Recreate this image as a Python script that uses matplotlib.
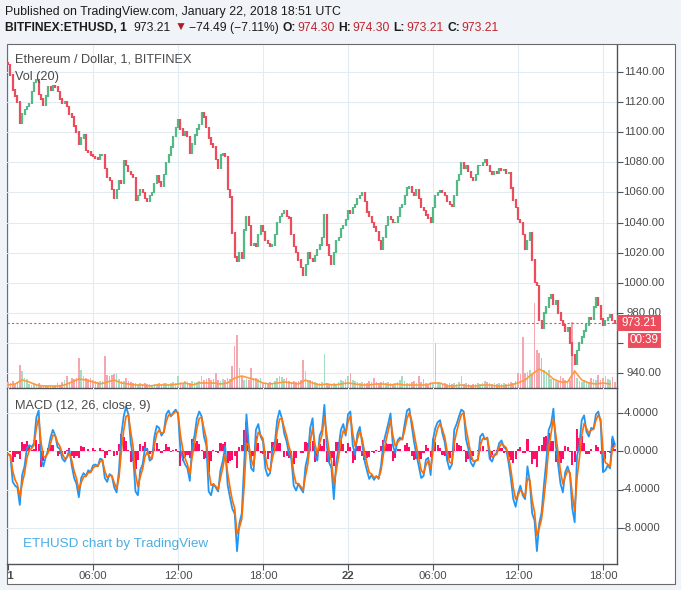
import numpy as np
import pandas as pd
import matplotlib
matplotlib.use('Agg')
import matplotlib.pyplot as plt
from matplotlib.patches import Rectangle
from matplotlib.transforms import Bbox, blended_transform_factory

# ETHUSD (Bitfinex) 21-22 ene 2018, velas agrupadas cada 10 minutos desde el 21 00:00
cierres = [
    1145, 1138, 1128, 1124, 1120, 1106, 1112, 1115, 1117, 1119,
    1127, 1133, 1135, 1125, 1122, 1118, 1124, 1130, 1128, 1131,
    1130, 1127, 1122, 1119, 1120, 1117, 1112, 1110, 1104, 1100,
    1092, 1096, 1098, 1088, 1087, 1085, 1084, 1083, 1082, 1085,
    1085, 1076, 1070, 1068, 1062, 1056, 1062, 1068, 1066, 1081,
    1078, 1074, 1072, 1070, 1055, 1058, 1062, 1060, 1056, 1054,
    1058, 1060, 1066, 1071, 1067, 1064, 1072, 1080, 1085, 1090,
    1097, 1103, 1108, 1102, 1098, 1100, 1097, 1086, 1092, 1098,
    1102, 1105, 1113, 1110, 1103, 1096, 1092, 1090, 1082, 1076,
    1085, 1086, 1084, 1062, 1057, 1033, 1017, 1014, 1020, 1016,
    1035, 1044, 1038, 1025, 1026, 1024, 1032, 1038, 1034, 1028,
    1026, 1024, 1025, 1032, 1040, 1044, 1046, 1048, 1044, 1043,
    1032, 1024, 1020, 1015, 1010, 1005, 1012, 1020, 1016, 1014,
    1018, 1022, 1025, 1030, 1045, 1025, 1018, 1012, 1020, 1028,
    1030, 1036, 1038, 1042, 1048, 1046, 1050, 1052, 1056, 1058,
    1060, 1054, 1047, 1044, 1040, 1037, 1034, 1028, 1022, 1030,
    1038, 1044, 1042, 1040, 1040, 1044, 1050, 1052, 1058, 1063,
    1064, 1060, 1058, 1062, 1056, 1050, 1048, 1045, 1043, 1040,
    1050, 1058, 1060, 1061, 1060, 1058, 1054, 1052, 1051, 1058,
    1068, 1072, 1080, 1076, 1078, 1074, 1070, 1068, 1072, 1078,
    1078, 1080, 1082, 1078, 1074, 1072, 1074, 1073, 1076, 1075,
    1075, 1073, 1073, 1063, 1055, 1050, 1042, 1040, 1032, 1022,
    1028, 1033, 1015, 1000, 998, 975, 970, 980, 984, 990,
    992, 986, 988, 980, 975, 972, 968, 970, 960, 952,
    946, 955, 960, 964, 968, 972, 977, 976, 984, 990,
    985, 976, 972, 975, 977, 979, 975, 973.21,
]
apertura_inicial = 1146

volumen = [
    6, 5, 7, 4, 6, 23, 17, 10, 9, 4,
    3, 5, 4, 5, 3, 2, 3, 2, 3, 2,
    3, 5, 3, 6, 8, 12, 5, 10, 9, 10,
    30, 18, 12, 10, 9, 10, 8, 7, 6, 7,
    7, 32, 13, 12, 13, 14, 15, 9, 7, 7,
    10, 7, 6, 5, 5, 4, 5, 4, 5, 4,
    4, 3, 4, 4, 5, 4, 5, 5, 4, 5,
    6, 5, 12, 6, 5, 7, 6, 5, 7, 6,
    6, 7, 12, 8, 9, 10, 8, 9, 15, 8,
    7, 9, 8, 10, 9, 22, 42, 53, 20, 12,
    8, 9, 8, 20, 10, 10, 9, 10, 5, 4,
    5, 6, 4, 7, 10, 12, 11, 9, 10, 7,
    6, 7, 6, 7, 8, 28, 17, 8, 8, 7,
    6, 5, 5, 6, 34, 5, 4, 3, 5, 4,
    6, 8, 7, 9, 12, 15, 8, 7, 6, 5,
    6, 5, 5, 7, 6, 10, 6, 5, 6, 7,
    5, 6, 5, 4, 5, 6, 8, 12, 7, 5,
    5, 6, 7, 5, 12, 6, 9, 5, 4, 6,
    5, 45, 6, 5, 4, 5, 4, 5, 4, 5,
    4, 6, 12, 4, 5, 4, 3, 4, 4, 5,
    4, 5, 7, 6, 5, 4, 5, 4, 5, 4,
    5, 4, 5, 6, 5, 7, 15, 14, 51, 15,
    16, 18, 14, 85, 38, 35, 30, 18, 16, 18,
    9, 8, 7, 6, 12, 10, 8, 7, 8, 66,
    18, 10, 7, 6, 8, 7, 6, 10, 9, 8,
    13, 8, 10, 12, 9, 8, 11, 6,
]

# media del volumen (20), leida cada 30 minutos
vol_media = [
    3, 4, 8, 6, 3, 2, 2, 2, 3, 6,
    9, 8, 6, 4, 6, 8, 5, 4, 3, 3,
    2, 3, 3, 3, 4, 5, 3, 5, 5, 5,
    4, 5, 10, 12, 10, 8, 5, 4, 5, 6,
    5, 4, 8, 5, 3, 4, 3, 4, 5, 4,
    3, 3, 4, 4, 3, 4, 3, 3, 3, 3,
    5, 5, 2, 2, 3, 2, 2, 3, 3, 2,
    2, 3, 5, 8, 14, 19, 15, 9, 6, 6,
    17, 8, 5, 4, 5, 4,
]

macd = [
    -0.3, -0.5, -3.2, -3.6, -3.8, -5.6, -2.5, -1.6, 0.3, 0.6,
    0.4, 0.8, 3.5, 4.2, -0.8, -1.6, -0.6, 0.1, 1.4, 2.2,
    1.6, 0.4, 0.2, -0.8, -1.1, -0.6, 0.1, -1.5, -2.8, -3.4,
    -4.8, -2.8, -2.3, -2.6, -2.0, -2.2, -1.5, -1.4, -1.6, -0.8,
    -0.9, -2.8, -3.2, -2.4, -2.6, -3.8, -4.3, -2.0, 1.7, 3.6,
    4.6, 3.8, 0.8, -0.6, -4.2, -4.6, -2.0, -1.4, 0.3, 0.2,
    -1.0, -0.8, 1.5, 2.6, 2.4, 1.6, 2.0, 3.8, 4.2, 3.6,
    4.0, 4.3, 3.9, 0.2, -0.8, -1.4, -1.8, -3.1, 0.6, 1.6,
    3.4, 4.1, 3.6, 1.5, 0.6, -4.2, -4.6, -3.4, -3.8, -4.2,
    -2.0, -1.0, 0.5, -3.5, -4.8, -6.0, -6.5, -10.4, -7.5, -6.5,
    -1.5, 3.8, 0.5, -1.8, -2.1, 2.2, 2.8, 1.5, 1.0, -1.8,
    -2.6, -2.3, 0.2, 0.8, 3.2, 4.2, 3.4, 1.8, 1.0, -0.3,
    -0.8, -3.6, -4.1, -3.4, -3.9, -4.3, -1.6, -0.5, 2.4, 3.4,
    -0.4, -1.0, 1.6, 2.2, 4.8, 0.6, -1.2, -1.8, -5.0, -1.2,
    0.3, 2.2, 2.8, 1.6, 3.8, 4.1, 0.6, -0.4, 1.8, 2.5,
    0.8, -1.0, -2.0, -2.9, -2.5, -3.0, -2.6, -2.9, -1.5, 0.8,
    1.8, 2.8, 3.9, 0.6, -0.2, 1.1, 1.4, 1.2, 2.8, 4.2,
    4.4, 2.6, 0.9, -0.4, -1.6, -2.8, -2.6, -0.9, -0.7, -2.5,
    1.2, 2.4, 3.0, 3.2, 1.8, 0.9, -1.0, -1.9, -1.4, 2.2,
    2.8, 3.6, 4.3, 4.1, 1.2, 0.2, -1.2, -1.6, -1.0, -0.9,
    1.5, 1.8, 1.2, 1.4, -0.8, -1.1, -0.4, -0.2, 0.8, 1.1,
    0.4, 0.2, -1.2, -2.9, -5.0, -5.8, -4.4, -3.6, -4.6, -5.0,
    -1.6, -3.2, -6.5, -7.2, -10.4, -7.5, -6.4, -3.5, -1.0, 2.2,
    2.8, 4.4, 0.6, -1.4, -3.4, -4.3, -2.2, -1.6, -2.4, -6.0,
    -7.4, -0.5, 0.6, 3.2, 3.7, 2.0, 1.5, 2.4, 2.3, 3.8,
    4.1, 3.0, -2.2, -2.0, -1.5, -1.8, 1.5, 0.7,
]

ultimo = 973.21
precio_ticks = [940, 960, 980, 1000, 1020, 1040, 1060, 1080, 1100, 1120, 1140]
macd_ticks = [-8, -4, 0, 4]
hora_ticks = [0, 360, 720, 1080, 1440, 1800, 2160, 2520]
hora_labels = ['21', '06:00', '12:00', '18:00', '22', '06:00', '12:00', '18:00']

# colores
verde = '#53b987'
rojo = '#eb4d5c'
verde_vol = '#a6dcc1'
rojo_vol = '#f4a7af'
rejilla = '#e3ebf2'
gris_txt = '#4a4a4a'
eje = '#505358'

W, H = 681, 590
plt.rcParams['font.family'] = ['Liberation Sans', 'DejaVu Sans']

def fx(x):
    return x / W

def fy(y):
    return 1 - y / H

def tx(xp):
    # pixel -> minutos
    return (xp - 8) * 360 / 85

t = np.arange(len(cierres)) * 10
t_media = np.arange(len(vol_media)) * 30
abre = [apertura_inicial] + cierres[:-1]
sube = [c >= o for o, c in zip(abre, cierres)]

fig = plt.figure(figsize=(W / 100, H / 100), dpi=100, facecolor='#f0f3f7')
fig.add_artist(Rectangle((fx(6.5), fy(583.5)), fx(675) - fx(6.5), fy(44) - fy(583.5),
                         facecolor='white', edgecolor='#6a6a6a', lw=0.8, zorder=-1))

ax_v = fig.add_axes([fx(7), fy(388), fx(617) - fx(7), fy(45) - fy(388)])
ax_p = ax_v.twinx()
ax_m = fig.add_axes([fx(7), fy(564), fx(617) - fx(7), fy(388) - fy(564)])

for a in (ax_v, ax_p, ax_m):
    a.set_xlim(tx(7), tx(617))
    a.patch.set_visible(False)
    for s in a.spines.values():
        s.set_visible(False)

ax_p.set_ylim(940 - 15 / 1.505, 1140 + 27 / 1.505)
ax_v.set_ylim(0, 343)
ax_m.set_ylim(-(564 - 451) / 9.625, (451 - 388) / 9.625)

# rejilla
for h in hora_ticks:
    ax_v.axvline(h, color=rejilla, lw=0.75, zorder=0)
    ax_m.axvline(h, color=rejilla, lw=0.75, zorder=0)
tr_grid = blended_transform_factory(ax_v.transAxes, ax_p.transData)
for p in precio_ticks:
    ax_v.plot([0, 1], [p, p], transform=tr_grid, color=rejilla, lw=0.75, zorder=0)
for m in macd_ticks:
    ax_m.axhline(m, color=rejilla, lw=0.75, zorder=0)

# volumen
ax_v.bar(t, volumen, width=7, color=[verde_vol if s else rojo_vol for s in sube], zorder=2)
ax_v.plot(t_media, vol_media, color='#ff9a3c', lw=1.2, zorder=3)

# velas
bajo = [min(o, c) - 0.5 for o, c in zip(abre, cierres)]
alto = [max(o, c) + 0.5 for o, c in zip(abre, cierres)]
ax_p.vlines(t, bajo, alto, colors=[verde if s else rojo for s in sube], lw=1.6, zorder=3)
ax_p.axhline(ultimo, color=rojo, lw=0.8, ls=(0, (2, 2)), zorder=4)

# MACD
serie = pd.Series(macd)
senal = serie.ewm(alpha=0.6, adjust=False).mean()
hist = serie - senal
ax_m.bar(t, hist, width=9, color='#ff0d66', zorder=2)
ax_m.plot(t, macd, color='#2196f3', lw=1.3, zorder=3)
ax_m.plot(t, senal, color='#ff6d00', lw=1.2, zorder=4)

# ejes
ax_p.spines['right'].set_visible(True)
ax_p.spines['bottom'].set_visible(True)
ax_m.spines['right'].set_visible(True)
ax_m.spines['bottom'].set_visible(True)
for s in (ax_p.spines['right'], ax_p.spines['bottom'], ax_m.spines['right'], ax_m.spines['bottom']):
    s.set_color(eje)
    s.set_linewidth(1.0)

ax_v.tick_params(left=False, labelleft=False, bottom=False, labelbottom=False)
ax_p.set_yticks(precio_ticks)
ax_p.tick_params(axis='y', right=True, labelright=False, length=4, color=eje)
ax_p.tick_params(axis='x', bottom=False, labelbottom=False)
ax_m.yaxis.tick_right()
ax_m.set_yticks(macd_ticks)
ax_m.tick_params(axis='y', right=True, left=False, labelright=False, labelleft=False, length=4, color=eje)
ax_m.set_xticks(hora_ticks)
ax_m.tick_params(axis='x', length=4, color=eje, labelbottom=False)

tr_p = blended_transform_factory(fig.transFigure, ax_p.transData)
for p in precio_ticks:
    ax_p.text(fx(644), p, f'{p:.2f}', transform=tr_p, ha='center', va='center',
              fontsize=8.2, color=gris_txt, clip_on=False)
tr_m = blended_transform_factory(fig.transFigure, ax_m.transData)
for m in macd_ticks:
    ax_m.text(fx(641), m, f'{m:.4f}', transform=tr_m, ha='center', va='center',
              fontsize=8.2, color=gris_txt, clip_on=False)
tr_x = blended_transform_factory(ax_m.transData, fig.transFigure)
for h, lab in zip(hora_ticks, hora_labels):
    peso = 'bold' if lab in ('21', '22') else 'normal'
    txt = ax_m.text(h, fy(576), lab, transform=tr_x, ha='center', va='center',
                    fontsize=8.2, color=gris_txt, fontweight=peso)
    txt.set_clip_on(True)
    txt.set_clip_box(Bbox.from_extents(7.5, 0, W, H))

# etiquetas del ultimo precio
fig.add_artist(Rectangle((fx(617), fy(331)), fx(661) - fx(617), fy(315) - fy(331),
                         facecolor=rojo, edgecolor='none', zorder=5))
fig.text(fx(639), fy(323), '973.21', ha='center', va='center', color='white', fontsize=8.4, zorder=6)
fig.add_artist(Rectangle((fx(627), fy(348)), fx(661) - fx(627), fy(332) - fy(348),
                         facecolor=rojo, edgecolor='white', lw=0.8, zorder=5))
fig.text(fx(644), fy(340), '00:39', ha='center', va='center', color='white', fontsize=8.4, zorder=6)

# titulos de los paneles
fig.text(fx(15), fy(60), 'Ethereum / Dollar, 1, BITFINEX', fontsize=9.2, color=gris_txt, va='center')
fig.text(fx(15), fy(77), 'Vol (20)', fontsize=9.2, color=gris_txt, va='center')
fig.text(fx(15), fy(406), 'MACD (12, 26, close, 9)', fontsize=9.2, color=gris_txt, va='center')
fig.text(fx(23), fy(544), 'ETHUSD chart by TradingView', fontsize=9.7, color='#4aaee6', va='center')

# cabecera
fig.text(fx(5), fy(12), 'Published on TradingView.com, January 22, 2018 18:51 UTC',
         fontsize=8.95, color='#1c1c1c', va='center')
rojo_osc = '#c0262f'
piezas = [
    ('BITFINEX:ETHUSD, 1', 'bold', '#1c1c1c', 0),
    ('973.21', 'normal', '#1c1c1c', 6),
    ('\u25bc', 'normal', '#b11c22', 4),
    ('\u221274.49 (\u22127.11%)', 'normal', '#1c1c1c', 3),
    ('O:', 'bold', '#1c1c1c', 4),
    ('974.30', 'normal', rojo_osc, 1),
    ('H:', 'bold', '#1c1c1c', 4),
    ('974.30', 'normal', rojo_osc, 1),
    ('L:', 'bold', '#1c1c1c', 4),
    ('973.21', 'normal', rojo_osc, 1),
    ('C:', 'bold', '#1c1c1c', 4),
    ('973.21', 'normal', rojo_osc, 1),
]
renderer = fig.canvas.get_renderer()
xpos = 5
for texto, peso, color, hueco in piezas:
    xpos += hueco
    tt = fig.text(fx(xpos), fy(28), texto, fontsize=8.7, fontweight=peso, color=color, va='center')
    xpos = tt.get_window_extent(renderer).x1

fig.savefig('out.png', dpi=100, facecolor=fig.get_facecolor())
